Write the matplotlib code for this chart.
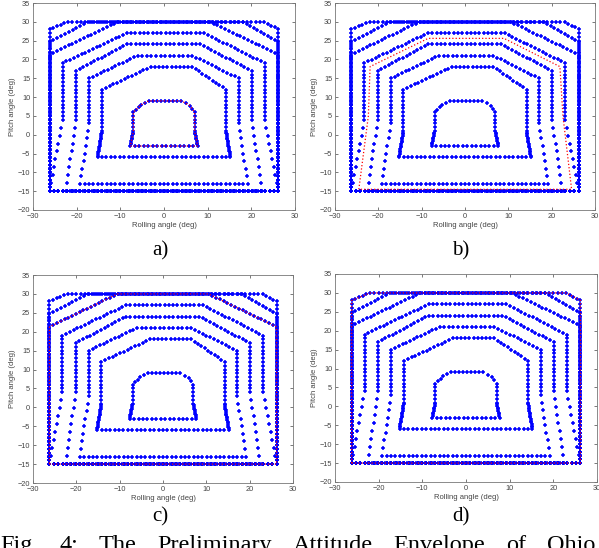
import numpy as np
import matplotlib
matplotlib.use('Agg')
import matplotlib.pyplot as plt

# ---- envelope contours (vertices in deg) and dot spacing per segment ----
ringA_x = [-7.7, 7.7, 7.0, 7.0, 6.0, 4.0, -3.5, -5.2, -7.0, -7.0, -7.7]
ringA_y = [-3.0, -3.0, 1.0, 6.0, 7.7, 9.0, 9.0, 8.0, 6.0, 1.0, -3.0]
ringA_step = [1, 0.45, 1, 1, 1, 1, 1, 1, 1, 0.45]

ringB_x = [-15.2, 15.2, 14.2, 14.2, 6.5, -3.0, -14.2, -14.2, -15.2]
ringB_y = [-6.0, -6.0, 1.0, 12.0, 18.0, 18.0, 12.0, 1.0, -6.0]
ringB_step = [1, 0.45, 1, 1, 1, 1, 1, 0.45]

ringC_x = [-19.2, 19.2, 17.1, 17.1, 6.5, -6.0, -17.1, -17.1, -19.2]
ringC_y = [-13.0, -13.0, 3.0, 15.0, 21.0, 21.0, 15.0, 3.0, -13.0]
ringC_step = [1, 2.0, 1, 1, 1, 1, 1, 2.0]

ringD_x = [-22.5, 22.5, 20.1, 20.1, 8.3, -8.5, -20.1, -20.1, -22.5]
ringD_y = [-15.0, -15.0, 4.0, 17.0, 24.0, 24.0, 17.0, 4.0, -15.0]
ringD_step = [1, 2.1, 1, 1, 1, 1, 1, 2.1]

ringE_x = [-26.2, 26.2, 23.1, 23.1, 9.2, -8.5, -23.2, -23.2, -26.2]
ringE_y = [-15.0, -15.0, 4.0, 19.0, 27.0, 27.0, 19.0, 4.0, -15.0]
ringE_step = [1, 2.1, 1, 1, 1, 1, 1, 2.1]

ringF_x = [-26.2, 26.2, 26.2, 10.5, -10.5, -26.2, -26.2]
ringF_y = [-15.0, -15.0, 21.3, 30.0, 30.0, 21.3, -15.0]
ringF_step = [1, 1, 1, 1, 1, 1]

ringG_x = [-26.2, 26.2, 26.2, 18.2, -17.4, -26.2, -26.2]
ringG_y = [-15.0, -15.0, 24.6, 30.0, 30.0, 24.7, -15.0]
ringG_step = [1, 1, 1, 1, 1, 1]

ringH_x = [-26.2, 26.2, 26.2, 23.0, -22.0, -26.2, -26.2]
ringH_y = [-15.0, -15.0, 28.0, 30.0, 30.0, 28.0, -15.0]
ringH_step = [1, 1, 1, 1, 1, 1]

# red dotted envelopes per panel
redB_x = [-24.5, -22.3, -21.9, -8.5, 9.0, 21.9, 22.6, 24.6, -24.5]
redB_y = [-14.5, 5.0, 18.1, 25.6, 25.6, 18.1, 5.0, -14.5, -14.5]

panel_labels = ['a)', 'b)', 'c)', 'd)']
x_ticks = [-30, -20, -10, 0, 10, 20, 30]
y_ticks = [-20, -15, -10, -5, 0, 5, 10, 15, 20, 25, 30, 35]
caption_words = ['Fig.', '4:', 'The', 'Preliminary', 'Attitude', 'Envelope', 'of', 'Ohio']

rings = [(ringA_x, ringA_y, ringA_step), (ringB_x, ringB_y, ringB_step),
         (ringC_x, ringC_y, ringC_step), (ringD_x, ringD_y, ringD_step),
         (ringE_x, ringE_y, ringE_step), (ringF_x, ringF_y, ringF_step),
         (ringG_x, ringG_y, ringG_step), (ringH_x, ringH_y, ringH_step)]
reds = [(ringA_x, ringA_y), (redB_x, redB_y), (ringF_x, ringF_y), (ringH_x, ringH_y)]


def dots(xs, ys, steps):
    px, py = [], []
    for i in range(len(xs) - 1):
        L = np.hypot(xs[i + 1] - xs[i], ys[i + 1] - ys[i])
        n = max(1, int(round(L / steps[i])))
        t = np.arange(n) / n
        px.extend(xs[i] + t * (xs[i + 1] - xs[i]))
        py.extend(ys[i] + t * (ys[i + 1] - ys[i]))
    return np.array(px), np.array(py)


W, H = 599, 548
fig = plt.figure(figsize=(W / 100, H / 100), dpi=100)
plt.rcParams['font.family'] = ['Liberation Sans', 'DejaVu Sans']

# axes boxes in pixels: left, right, top, bottom
boxes = [(33, 295, 3, 210), (335, 595, 3, 210), (33, 293, 275, 483), (335, 597, 274, 482)]
label_pos = [(160, 251), (461, 251), (160, 517), (461, 517)]

for k, (l, r, t, b) in enumerate(boxes):
    ax = fig.add_axes([l / W, 1 - b / H, (r - l) / W, (b - t) / H])
    for xs, ys, st in rings:
        px, py = dots(xs, ys, st)
        ax.plot(px, py, linestyle='none', marker='+', color='#0000ff',
                markersize=3.2, markeredgewidth=1.1)
    rx, ry = reds[k]
    ax.plot(rx, ry, linestyle=':', color='#ff0000', linewidth=0.9)
    ax.set_xlim(-30, 30)
    ax.set_ylim(-20, 35)
    ax.set_xticks(x_ticks)
    ax.set_yticks(y_ticks)
    ax.tick_params(direction='in', length=2.5, width=0.5, labelsize=5.3,
                   colors='#444444', top=True, right=True, pad=2)
    for s in ax.spines.values():
        s.set_color('#777777')
        s.set_linewidth(0.6)
    ax.set_xlabel('Rolling angle (deg)', fontsize=5.5, color='#444444', labelpad=1.5)
    ax.set_ylabel('Pitch angle (deg)', fontsize=5.5, color='#444444', labelpad=1.5)
    lx, ly = label_pos[k]
    fig.text(lx / W, 1 - ly / H, panel_labels[k], ha='center', va='center',
             fontsize=15, family='Liberation Serif', color='black')

# justified caption line (cut by the bottom edge as in the source page)
fig.canvas.draw()
rend = fig.canvas.get_renderer()
objs = [fig.text(0, 1 - 535 / H, w, ha='left', va='top', fontsize=17.5,
                 family='Liberation Serif', color='black') for w in caption_words]
widths = [o.get_window_extent(rend).width for o in objs]
gap = (W - 4 - sum(widths)) / (len(objs) - 1)
xpos = 0.0
for o, wd in zip(objs, widths):
    o.set_x(xpos / W)
    xpos += wd + gap

fig.savefig('out.png', dpi=100)
